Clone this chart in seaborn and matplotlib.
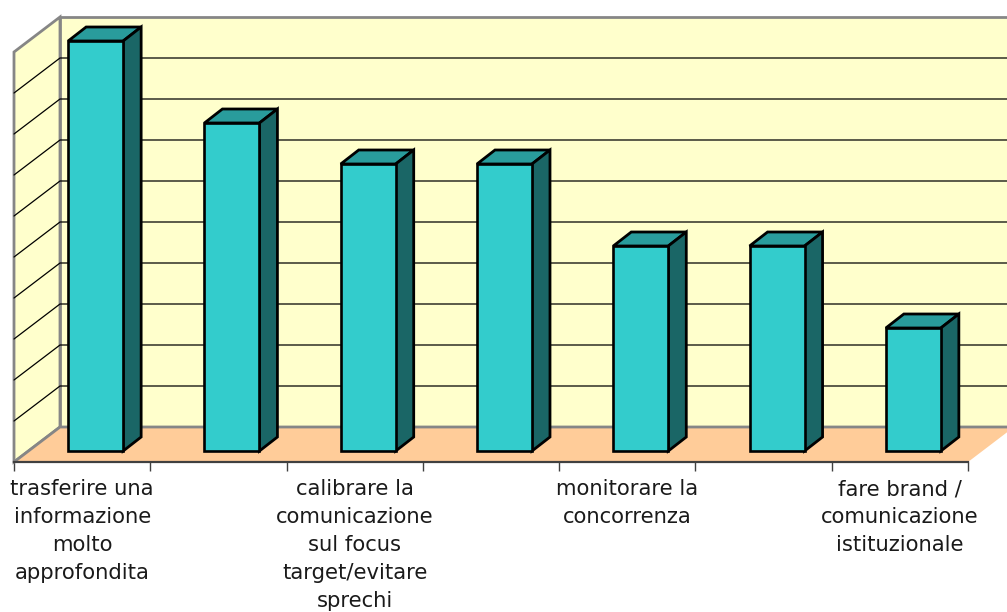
import matplotlib
matplotlib.use("Agg")
import matplotlib.pyplot as plt
from matplotlib.patches import Polygon
import seaborn as sns
import pandas as pd

categories = [
    "trasferire una\ninformazione\nmolto\napprofondita",
    "cat2",
    "calibrare la\ncomunicazione\nsul focus\ntarget/evitare\nsprechi",
    "cat4",
    "monitorare la\nconcorrenza",
    "cat6",
    "fare brand /\ncomunicazione\nistituzionale",
]
values = [10, 8, 7, 7, 5, 5, 3]
shown_labels = [categories[0], "", categories[2], "", categories[4], "", categories[6]]

W, H = 1007, 612
sns.set_theme(style="white")
plt.rcParams["font.family"] = ["DejaVu Sans"]

fig = plt.figure(figsize=(W / 100, H / 100), dpi=100)
ax = fig.add_axes([14 / W, (H - 462) / H, (968 - 14) / W, 410 / H])
ax.patch.set_visible(False)

df = pd.DataFrame({"cat": categories, "val": values})
sns.barplot(data=df, x="cat", y="val", color="#33CCCC", saturation=1, width=55 / 136.3,
            edgecolor="black", linewidth=1.9, ax=ax, zorder=5)
ax.set_xlim(-0.5, 6.5)
ax.set_ylim(0, 10)

# depth in data units
ux, uy = 136.3, 41.0
wall_dx, wall_dy = 46 / ux, 35 / uy
bar_dx, bar_dy = 13.5 / ux, 11 / uy
top_dx, top_dy = 18 / ux, 14 / uy
x0, x1 = -0.5, 6.5
grey = "#868686"


def poly(pts, fc, ec="none", lw=0, z=1):
    ax.add_patch(Polygon(pts, closed=True, facecolor=fc, edgecolor=ec, linewidth=lw,
                         zorder=z, clip_on=False, joinstyle="miter"))


# walls and floor
poly([(x0, 0), (x0 + wall_dx, wall_dy), (x0 + wall_dx, 10 + wall_dy), (x0, 10)], "#FFFFCC", grey, 2, 1)
poly([(x0 + wall_dx, wall_dy), (x1 + wall_dx, wall_dy), (x1 + wall_dx, 10 + wall_dy),
      (x0 + wall_dx, 10 + wall_dy)], "#FFFFCC", grey, 2, 1)
poly([(x0, 0), (x1, 0), (x1 + wall_dx, wall_dy), (x0 + wall_dx, wall_dy)], "#FFCC99", z=2)
ax.plot([x0, x0 + wall_dx, x1 + wall_dx], [0, wall_dy, wall_dy], color=grey, lw=2, zorder=2.5,
        clip_on=False, solid_joinstyle="miter")

# gridlines on both walls
for v in range(1, 10):
    ax.plot([x0, x0 + wall_dx, x1 + wall_dx], [v, v + wall_dy, v + wall_dy], color="black", lw=0.9,
            zorder=3, clip_on=False)

# bars: shift the fronts into the floor, add top and side faces
for p in ax.patches:
    if p.get_zorder() != 5:
        continue
    p.set_x(p.get_x() + bar_dx)
    p.set_y(bar_dy)
    p.set_clip_on(False)
    p.set_joinstyle("miter")
    l, r, b, t = p.get_x(), p.get_x() + p.get_width(), p.get_y(), p.get_y() + p.get_height()
    poly([(l, t), (r, t), (r + top_dx, t + top_dy), (l + top_dx, t + top_dy)], "#299C9C", "black", 2, 4)
    poly([(r, b), (r + top_dx, b + top_dy), (r + top_dx, t + top_dy), (r, t)], "#1A6666", "black", 2, 4)

# axis
sns.despine(ax=ax, left=True, top=True, right=True)
ax.spines["bottom"].set_color("#404040")
ax.spines["bottom"].set_linewidth(1.6)
ax.spines["bottom"].set_zorder(6)
ax.set_xlabel("")
ax.set_ylabel("")
ax.set_yticks([])
ax.set_xticks(range(len(categories)))
ax.set_xticklabels(shown_labels, fontsize=15.2, color="#1a1a1a", linespacing=1.49)
ax.tick_params(axis="x", which="major", length=0, pad=12.5)
ax.set_xticks([x0 + i for i in range(8)], minor=True)
ax.tick_params(axis="x", which="minor", length=6.5, width=1, color="#404040", bottom=True)

fig.savefig("out.png", dpi=100)
